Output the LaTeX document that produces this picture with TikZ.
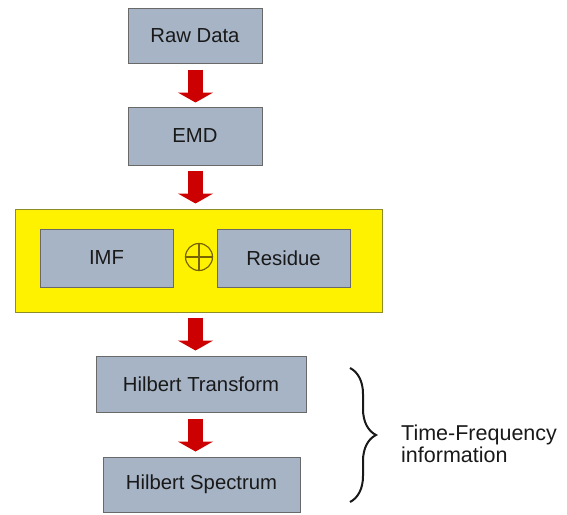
\documentclass[tikz,border=0pt]{standalone}
\usepackage{fontspec}
\setmainfont{Liberation Sans}
\usetikzlibrary{arrows.meta,decorations.pathreplacing,calc}
\definecolor{boxfill}{RGB}{166,180,198}
\definecolor{boxline}{RGB}{105,105,105}
\definecolor{arrowred}{RGB}{204,0,0}
\definecolor{yellowline}{RGB}{140,140,40}
\definecolor{oplusline}{RGB}{120,100,0}
\definecolor{txt}{RGB}{25,25,25}
\tikzset{
  procbox/.style={draw=boxline, line width=1pt, fill=boxfill, inner sep=0pt,
    text=txt, font=\fontsize{20.3}{24}\selectfont},
  bigarrow/.style={draw=arrowred, line width=15pt,
    -{Triangle[width=35pt,length=10pt,fill=arrowred]}},
  sidetext/.style={anchor=base west, inner sep=0pt, text=txt,
    font=\fontsize{21.5}{24}\selectfont}
}
\begin{document}
\begin{tikzpicture}[x=1pt,y=-1pt]
\useasboundingbox (0,0) rectangle (567,514);
\coordinate (ax) at (195.5,0);
% yellow container
\node[draw=yellowline, line width=1pt, fill=yellow, inner sep=0pt,
  minimum width=367pt, minimum height=103pt] (group) at (198.5,260.5) {};
% boxes
\node[procbox, minimum width=134pt, minimum height=55pt] (raw) at (195,35.5) {Raw Data};
\node[procbox, minimum width=134pt, minimum height=58pt] (emd) at (195,136) {EMD};
\node[procbox, minimum width=133pt, minimum height=58pt] (imf) at (106.5,258) {IMF};
\node[procbox, minimum width=133pt, minimum height=58pt] (res) at (283.5,258) {Residue};
\node[draw=oplusline, line width=1.2pt, circle, minimum size=27pt, inner sep=0pt] (oplus) at (199,257) {};
\draw[oplusline, line width=1.2pt] (oplus.north) -- (oplus.south) (oplus.west) -- (oplus.east);
\node[procbox, minimum width=210pt, minimum height=56pt] (ht) at (201,384) {Hilbert Transform};
\node[procbox, minimum width=197pt, minimum height=55pt] (hs) at (201.5,484.5) {Hilbert Spectrum};
% arrows
\draw[bigarrow, shorten <=6pt, shorten >=4pt] (raw.south -| ax) -- (emd.north -| ax);
\draw[bigarrow, shorten <=5pt, shorten >=5pt] (emd.south -| ax) -- (group.north -| ax);
\draw[bigarrow, shorten <=5pt, shorten >=5pt] (group.south -| ax) -- (ht.north -| ax);
\draw[bigarrow, shorten <=6pt, shorten >=5pt] (ht.south -| ax) -- (hs.north -| ax);
% brace and label
\coordinate (btop) at (350,368);
\coordinate (bbot) at (350,502);
\draw[line width=2pt, txt, decorate, decoration={brace, amplitude=26pt}] (btop) -- (bbot);
\node[sidetext] (tf) at (401,440) {Time-Frequency};
\node[sidetext] (info) at (401,462) {information};
\end{tikzpicture}
\end{document}
